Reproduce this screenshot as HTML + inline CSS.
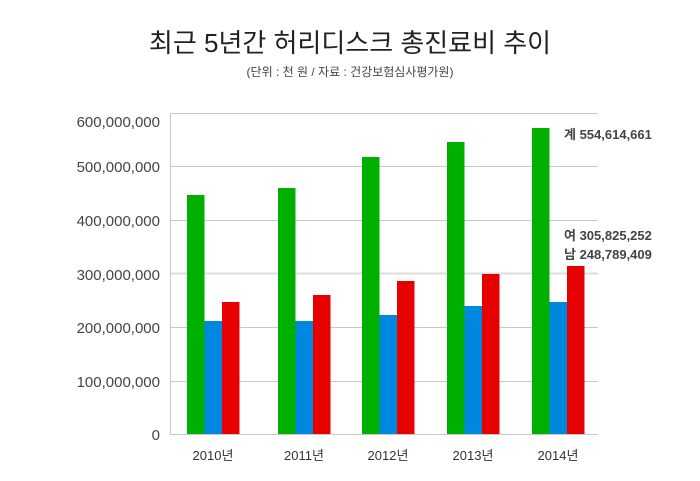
<!DOCTYPE html>
<html><head><meta charset="utf-8"><style>
body{margin:0;background:#fff;}
svg{display:block;font-family:"Liberation Sans","Noto Sans CJK KR",sans-serif;}
</style></head><body>
<svg width="700" height="481" viewBox="0 0 700 481">
<text x="350" y="52" text-anchor="middle" font-size="26" fill="#222">최근 5년간 허리디스크 총진료비 추이</text>
<text x="350" y="76" text-anchor="middle" font-size="12" fill="#444">(단위 : 천 원 / 자료 : 건강보험심사평가원)</text>
<g stroke="#c8c8c8" stroke-width="1">
<line x1="170" y1="113.5" x2="598" y2="113.5"/>
<line x1="170" y1="166.5" x2="598" y2="166.5"/>
<line x1="170" y1="220.5" x2="598" y2="220.5"/>
<line x1="170" y1="273.5" x2="598" y2="273.5" stroke="#ddd" stroke-width="2"/>
<line x1="170" y1="327.5" x2="598" y2="327.5"/>
<line x1="170" y1="381.5" x2="598" y2="381.5"/>
<line x1="170" y1="434.5" x2="598" y2="434.5"/>
<line x1="170.5" y1="113" x2="170.5" y2="434"/>
</g>
<g font-size="15" fill="#444" text-anchor="end">
<text x="160" y="127">600,000,000</text>
<text x="160" y="172">500,000,000</text>
<text x="160" y="226">400,000,000</text>
<text x="160" y="280">300,000,000</text>
<text x="160" y="333">200,000,000</text>
<text x="160" y="387">100,000,000</text>
<text x="160" y="440">0</text>
</g>
<g>
<rect x="187" y="195" width="17.5" height="239" fill="#00b000"/><rect x="204.5" y="321" width="17.5" height="113" fill="#0088e0"/><rect x="222" y="302" width="17.5" height="132" fill="#e60000"/>
<rect x="278" y="188" width="17.5" height="246" fill="#00b000"/><rect x="295.5" y="321" width="17.5" height="113" fill="#0088e0"/><rect x="313" y="295" width="17.5" height="139" fill="#e60000"/>
<rect x="362" y="157" width="17.5" height="277" fill="#00b000"/><rect x="379.5" y="315" width="17.5" height="119" fill="#0088e0"/><rect x="397" y="281" width="17.5" height="153" fill="#e60000"/>
<rect x="447" y="142" width="17.5" height="292" fill="#00b000"/><rect x="464.5" y="306" width="17.5" height="128" fill="#0088e0"/><rect x="482" y="274" width="17.5" height="160" fill="#e60000"/>
<rect x="532" y="128" width="17.5" height="306" fill="#00b000"/><rect x="549.5" y="302" width="17.5" height="132" fill="#0088e0"/><rect x="567" y="266" width="17.5" height="168" fill="#e60000"/>
</g>
<g font-size="13" fill="#333" text-anchor="middle">
<text x="213" y="460">2010년</text>
<text x="304" y="460">2011년</text>
<text x="388" y="460">2012년</text>
<text x="473" y="460">2013년</text>
<text x="558" y="460">2014년</text>
</g>
<g font-size="13" font-weight="bold" fill="#444">
<text x="564" y="139">계 554,614,661</text>
<text x="564" y="240">여 305,825,252</text>
<text x="564" y="259">남 248,789,409</text>
</g>
</svg>
</body></html>
